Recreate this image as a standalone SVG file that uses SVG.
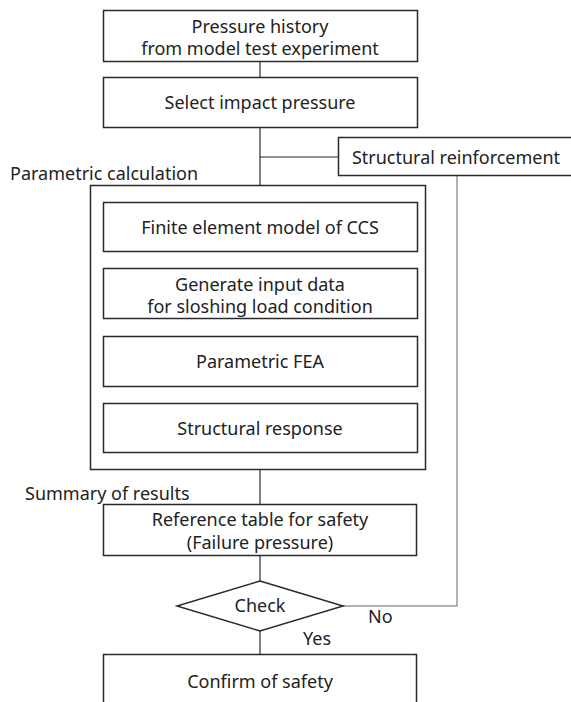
<svg xmlns="http://www.w3.org/2000/svg" width="571" height="702" viewBox="0 0 571 702">
<style>
.box{fill:#fff;stroke:#2a2a2a;stroke-width:1.5}
.t{font-family:"Noto Sans","Open Sans",sans-serif;font-size:18px;fill:#222;text-anchor:middle;dominant-baseline:central}
.lbl{font-family:"Noto Sans","Open Sans",sans-serif;font-size:18px;fill:#222}
.ln{fill:none;stroke:#2a2a2a;stroke-width:1.2}
.fb{fill:none;stroke:#999;stroke-width:1.5}
</style>
<rect width="571" height="702" fill="#fff"/>
<g id="connectors">
<line class="ln" x1="260" y1="61" x2="260" y2="77"/>
<line class="ln" x1="260" y1="127" x2="260" y2="202"/>
<line class="ln" x1="260" y1="157" x2="338" y2="157"/>
<line class="ln" x1="260" y1="251" x2="260" y2="268"/>
<line class="ln" x1="260" y1="318" x2="260" y2="336"/>
<line class="ln" x1="260" y1="386" x2="260" y2="403"/>
<line class="ln" x1="260" y1="452" x2="260" y2="504"/>
<line class="ln" x1="260" y1="555" x2="260" y2="581"/>
<line class="ln" x1="260" y1="631" x2="260" y2="654"/>
<polyline class="fb" points="343,606 457,606 457,175"/>
<text class="lbl" x="368" y="623">No</text>
<text class="lbl" x="303" y="645">Yes</text>
</g>
<g id="group-parametric">
<rect class="box" x="90.5" y="185.5" width="335" height="284" fill="none"/>
<text class="lbl" x="10" y="180">Parametric calculation</text>
</g>
<g id="n1"><rect class="box" x="103.5" y="10.5" width="314" height="51"/>
<text class="t" x="260" y="26">Pressure history</text><text class="t" x="260" y="48">from model test experiment</text></g>
<g id="n2"><rect class="box" x="103.5" y="77.5" width="314" height="50"/>
<text class="t" x="260" y="102">Select impact pressure</text></g>
<g id="n-reinf"><rect class="box" x="338.5" y="137.5" width="240" height="38"/>
<text class="t" x="456" y="157">Structural reinforcement</text></g>
<g id="n3"><rect class="box" x="103.5" y="202.5" width="314" height="49"/>
<text class="t" x="260" y="227">Finite element model of CCS</text></g>
<g id="n4"><rect class="box" x="103.5" y="268.5" width="314" height="50"/>
<text class="t" x="260" y="284">Generate input data</text><text class="t" x="260" y="306">for sloshing load condition</text></g>
<g id="n5"><rect class="box" x="103.5" y="336.5" width="314" height="50"/>
<text class="t" x="260" y="361">Parametric FEA</text></g>
<g id="n6"><rect class="box" x="103.5" y="403.5" width="314" height="49"/>
<text class="t" x="260" y="428">Structural response</text></g>
<g id="summary-label"><text class="lbl" x="25" y="500">Summary of results</text></g>
<g id="n7"><rect class="box" x="103.5" y="504.5" width="313" height="51"/>
<text class="t" x="260" y="519">Reference table for safety</text><text class="t" x="260" y="542">(Failure pressure)</text></g>
<g id="n-check"><polygon class="box" points="260,581 343,606 260,631 177,606"/>
<text class="t" x="260" y="605">Check</text></g>
<g id="n8"><rect class="box" x="103.5" y="654.5" width="313" height="70"/>
<text class="t" x="260" y="681">Confirm of safety</text></g>
</svg>
